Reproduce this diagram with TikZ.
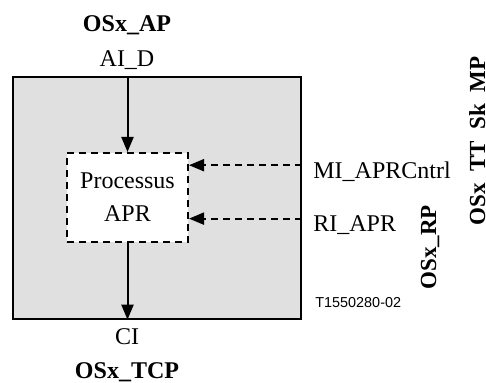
\documentclass[tikz,border=0pt]{standalone}
\usepackage{fontspec}
\setmainfont{Liberation Serif}
\newfontfamily\labelsans{Liberation Sans}
\usetikzlibrary{arrows.meta, positioning, calc}
\definecolor{boxgray}{RGB}{224,224,224}

\begin{document}
\begin{tikzpicture}[x=0.5pt, y=-0.5pt,
    txt/.style={inner sep=0pt, font=\fontsize{12}{16.5}\selectfont},
    pointname/.style={txt, font=\fontsize{12}{16.5}\selectfont\bfseries},
    sidename/.style={txt, font=\fontsize{11.5}{16.5}\selectfont\bfseries, anchor=base, rotate=90},
    flow/.style={line width=1pt, -{Triangle[length=7.5pt, width=6pt]}},
    ctrl/.style={flow, dash pattern=on 3.5pt off 2.5pt}]
  \useasboundingbox (0,0) rectangle (486,383);
  % function block
  \node[draw, line width=0.7pt, fill=boxgray, minimum width=144pt, minimum height=121pt,
        inner sep=0pt] (fn) at (157,198) {};
  \node[draw, fill=white, line width=1pt, dash pattern=on 3.5pt off 2.5pt,
        minimum width=60.5pt, minimum height=44.5pt, align=center, txt] (apr) at (127.5,197.5)
        {Processus\\APR};
  % access points
  \node[pointname, anchor=base] (ap) at (127,32) {OSx\_AP};
  \node[txt, anchor=base] (aid) at (127,67) {AI\_D};
  \node[txt, anchor=base] (ci) at (127,345) {CI};
  \node[pointname, anchor=base] (tcp) at (127,379) {OSx\_TCP};
  % control inputs
  \node[txt, anchor=base west] (mi) at (313,179) {MI\_APRCntrl};
  \node[txt, anchor=base west] (ri) at (313,232) {RI\_APR};
  \node[sidename] (rp) at (436,247.5) {OSx\_RP};
  \node[sidename] (mp) at (485,141) {OSx\_TT\_Sk\_MP};
  \node[inner sep=0pt, anchor=base west, font=\labelsans\fontsize{7.2}{8}\selectfont] (ref)
        at (315,308) {T1550280-02};
  % flows
  \draw[flow] (apr.north |- fn.north) -- (apr.north);
  \draw[flow] (apr.south) -- (apr.south |- fn.south);
  \draw[ctrl] ($(mi.west -| fn.east)+(0,-7)$) -- ($(mi.west -| apr.east)+(0,-7)$);
  \draw[ctrl] ($(ri.west -| fn.east)+(0,-7)$) -- ($(ri.west -| apr.east)+(0,-7)$);
\end{tikzpicture}
\end{document}
